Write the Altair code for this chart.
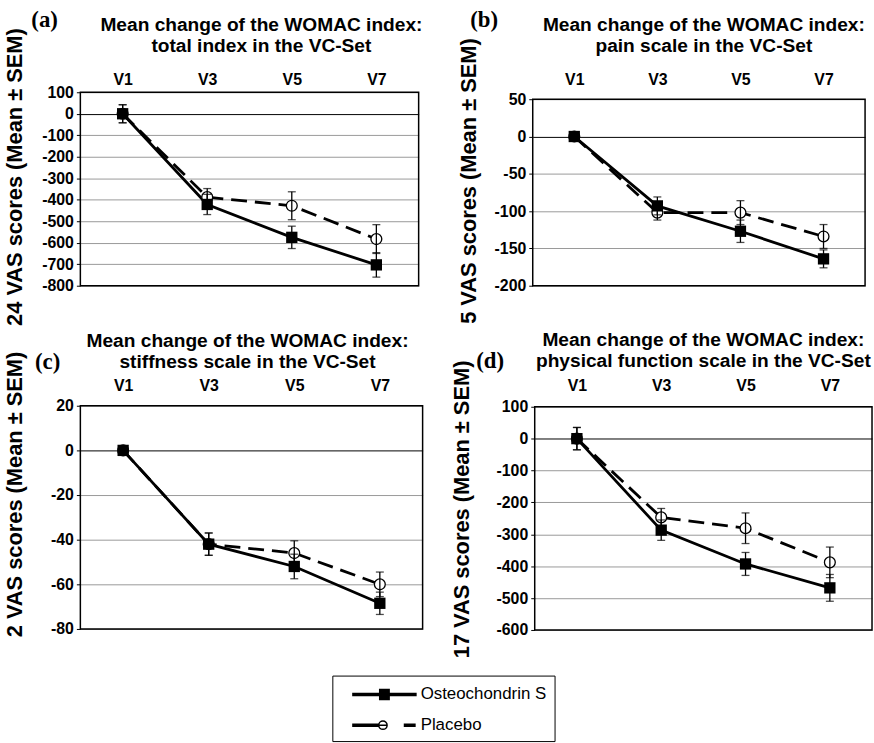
import altair as alt
import pandas as pd

visits = ["V1", "V3", "V5", "V7"]
series_names = ["Osteochondrin S", "Placebo"]
panel_labels = ["(a)", "(b)", "(c)", "(d)"]

# (a) total index
total_title = ["Mean change of the WOMAC index:", "total index in the VC-Set"]
total_ytitle = "24 VAS scores (Mean \u00b1 SEM)"
total_osteo = [0, -422, -575, -703]
total_osteo_sem = [42, 47, 52, 57]
total_placebo = [0, -388, -428, -583]
total_placebo_sem = [42, 40, 65, 67]
total_ticks = [100, 0, -100, -200, -300, -400, -500, -600, -700, -800]

# (b) pain scale
pain_title = ["Mean change of the WOMAC index:", "pain scale in the VC-Set"]
pain_ytitle = "5 VAS scores (Mean \u00b1 SEM)"
pain_osteo = [0, -93, -127, -164]
pain_osteo_sem = [2, 12, 15, 12]
pain_placebo = [0, -102, -102, -134]
pain_placebo_sem = [2, 10, 16, 16]
pain_ticks = [50, 0, -50, -100, -150, -200]

# (c) stiffness scale
stiff_title = ["Mean change of the WOMAC index:", "stiffness scale in the VC-Set"]
stiff_ytitle = "2 VAS scores (Mean \u00b1 SEM)"
stiff_osteo = [0, -42, -52, -68.5]
stiff_osteo_sem = [2, 5, 5.5, 5]
stiff_placebo = [0, -42, -46, -60]
stiff_placebo_sem = [2, 5, 5.5, 5.5]
stiff_ticks = [20, 0, -20, -40, -60, -80]

# (d) physical function scale
phys_title = ["Mean change of the WOMAC index:", "physical function scale in the VC-Set"]
phys_ytitle = "17 VAS scores (Mean \u00b1 SEM)"
phys_osteo = [0, -287, -393, -468]
phys_osteo_sem = [35, 32, 36, 42]
phys_placebo = [0, -247, -281, -388]
phys_placebo_sem = [35, 28, 48, 48]
phys_ticks = [100, 0, -100, -200, -300, -400, -500, -600]

FONT = "Liberation Sans"


def panel(label, title_lines, ytitle, osteo, osteo_sem, plac, plac_sem, ticks,
          width, height, range_top, lab_x, lab_y, title_dx, title_offset, xpad,
          ytitle_x, ytitle_y):
    df = pd.DataFrame({
        "visit": visits * 2,
        "series": [series_names[0]] * 4 + [series_names[1]] * 4,
        "mean": osteo + plac,
        "sem": osteo_sem + plac_sem,
    })
    base = alt.Chart(df).transform_calculate(
        lo="datum.mean - datum.sem", hi="datum.mean + datum.sem")
    x = alt.X("visit:N",
              scale=alt.Scale(type="point", domain=visits, padding=0.5),
              axis=alt.Axis(orient="top", title=None, ticks=False, domain=False,
                            labelAngle=0, labelPadding=xpad, grid=False))
    yaxis = alt.Axis(values=ticks, title=ytitle, grid=True,
                     gridColor=alt.condition("datum.value == 0", alt.value("black"), alt.value("#999999")),
                     gridWidth=1, domain=False, tickSize=4, tickColor="black",
                     labelPadding=3, labelExpr="toString(datum.value)",
                     titleX=ytitle_x, titleY=ytitle_y)
    yscale = alt.Scale(domain=[min(ticks), max(ticks)], range=[height, range_top],
                       nice=False, zero=False)
    ymean = alt.Y("mean:Q", scale=yscale, axis=yaxis)

    frame_df = pd.DataFrame({"top": [max(ticks)], "bottom": [min(ticks)]})
    frame = alt.Chart(frame_df).mark_rect(
        fill="transparent", stroke="black", strokeWidth=1.5).encode(
        x=alt.value(0), x2=alt.value(width),
        y=alt.Y("top:Q", scale=yscale, axis=yaxis), y2="bottom:Q")

    osteo_base = base.transform_filter(alt.datum.series == series_names[0])
    plac_base = base.transform_filter(alt.datum.series == series_names[1])

    line_plac = plac_base.mark_line(color="black", strokeWidth=2.8, strokeDash=[16, 8]).encode(
        x=x, y=ymean)
    line_osteo = osteo_base.mark_line(color="black", strokeWidth=2.8).encode(x=x, y=ymean)
    pts_plac = plac_base.mark_point(
        shape="circle", filled=True, fill="white", stroke="black", strokeWidth=1.3,
        size=120, opacity=1).encode(x=x, y=ymean)
    pts_osteo = osteo_base.mark_point(
        shape="square", filled=True, color="black", size=130, opacity=1).encode(x=x, y=ymean)
    rule = base.mark_rule(color="black", strokeWidth=1.3).encode(
        x=x, y=alt.Y("lo:Q", scale=yscale, axis=yaxis), y2="hi:Q")
    cap_lo = base.mark_tick(color="black", thickness=1.3, size=8, orient="horizontal").encode(
        x=x, y=alt.Y("lo:Q", scale=yscale, axis=yaxis))
    cap_hi = base.mark_tick(color="black", thickness=1.3, size=8, orient="horizontal").encode(
        x=x, y=alt.Y("hi:Q", scale=yscale, axis=yaxis))
    lab = alt.Chart(pd.DataFrame({"t": [label]})).mark_text(
        font="Liberation Serif", fontSize=23, fontWeight="bold", align="center",
        baseline="middle", color="black").encode(
        text="t:N", x=alt.value(lab_x), y=alt.value(lab_y))

    return alt.layer(frame, line_plac, line_osteo, pts_plac, pts_osteo,
                     rule, cap_lo, cap_hi, lab).properties(
        width=width, height=height,
        title=alt.TitleParams(title_lines, dx=title_dx, offset=title_offset),
    )


pa = panel(panel_labels[0], total_title, total_ytitle, total_osteo, total_osteo_sem,
           total_placebo, total_placebo_sem, total_ticks, 341, 195, 0,
           -36, -73, 12, -48, 5, -54, 85)
pb = panel(panel_labels[1], pain_title, pain_ytitle, pain_osteo, pain_osteo_sem,
           pain_placebo, pain_placebo_sem, pain_ticks, 335, 195, 7,
           -49, -73, 5, -48, 5, -53, 89)
pc = panel(panel_labels[2], stiff_title, stiff_ytitle, stiff_osteo, stiff_osteo_sem,
           stiff_placebo, stiff_placebo_sem, stiff_ticks, 345, 225, 0,
           -33, -44, -4, -21, 12, -54, 89)
pd_ = panel(panel_labels[3], phys_title, phys_ytitle, phys_osteo, phys_osteo_sem,
            phys_placebo, phys_placebo_sem, phys_ticks, 340, 226, 1,
            -45, -45, 0, -21, 12, -62, 104)

# legend symbols: custom symbol paths (unit = 10 px), drawn with strokes only
square_rows = "".join("M-0.55,%.1fH0.55" % (k / 10.0) for k in range(-5, 6))
path_osteo = "M-3.25,-0.1H3.25M-3.25,0H3.25M-3.25,0.1H3.25" + square_rows
path_placebo = ("M-3.25,-0.1H-0.57M-3.25,0H-0.57M-3.25,0.1H-0.57M-0.57,0H0.27"
                "M-0.57,0A0.42,0.42,0,1,1,0.27,0A0.42,0.42,0,1,1,-0.57,0"
                "M1.95,-0.1H3.15M1.95,0H3.15M1.95,0.1H3.15")

leg = alt.Legend(orient="none", legendX=254, legendY=13, title=None, padding=8,
                 strokeColor="black", symbolSize=400, symbolStrokeWidth=1.5,
                 symbolOffset=33.5, labelOffset=25.5,
                 labelFont=FONT, labelFontSize=17, labelFontWeight="normal",
                 labelColor="black", rowPadding=12, symbolOpacity=1)

legend_chart = alt.Chart(pd.DataFrame({"series": series_names})).transform_filter(
    "false"
).mark_point(
    filled=False, fill="white", stroke="black", strokeWidth=1.5).encode(
    shape=alt.Shape("series:N", scale=alt.Scale(domain=series_names, range=[path_osteo, path_placebo]),
                    legend=leg),
).properties(width=600, height=85)

row1 = alt.hconcat(pa, pb, spacing=33)
row2 = alt.hconcat(pc, pd_, spacing=25)

chart = alt.vconcat(row1, row2, legend_chart, spacing=4).resolve_scale(
    shape="independent"
).resolve_legend(
    shape="independent"
).properties(
    padding={"left": 3, "top": 5, "right": 0, "bottom": 0}
).configure_axis(
    labelFont=FONT, labelFontSize=16, labelFontWeight="bold", labelColor="black",
    titleFont=FONT, titleFontSize=22, titleFontWeight="bold", titleColor="black",
).configure_view(
    stroke="transparent"
).configure_title(
    font=FONT, fontSize=19.3, fontWeight="bold", color="black", anchor="middle",
    lineHeight=21, frame="group"
)

chart.save("out.html", embed_options={"renderer": "svg", "actions": False})
